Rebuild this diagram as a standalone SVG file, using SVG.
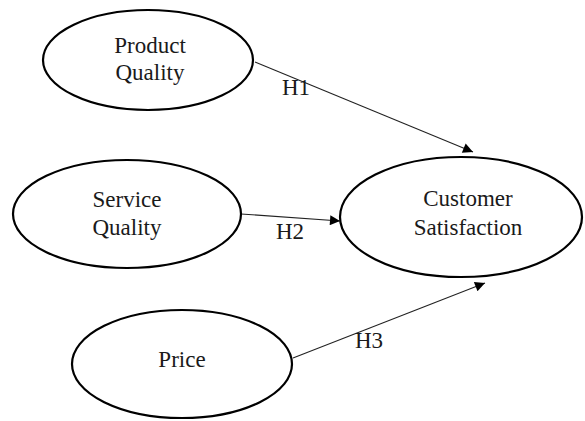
<svg xmlns="http://www.w3.org/2000/svg" width="585" height="421" viewBox="0 0 585 421">
  <style>
    .node { fill: #ffffff; stroke: #000000; stroke-width: 2.2; }
    .label { font-family: "Liberation Serif", "Times New Roman", serif; font-size: 23px; fill: #1a1a1a; text-anchor: middle; }
    .edge { stroke: #222222; stroke-width: 1.1; fill: none; marker-end: url(#arrow); }
    .edge-label { font-family: "Liberation Serif", "Times New Roman", serif; font-size: 23px; fill: #1a1a1a; }
  </style>
  <defs>
    <marker id="arrow" viewBox="0 0 10 10" refX="10" refY="5" markerWidth="14" markerHeight="10" markerUnits="userSpaceOnUse" orient="auto">
      <path d="M0,0 L10,5 L0,10 Z" fill="#000000"/>
    </marker>
  </defs>
  <rect width="585" height="421" fill="#ffffff"/>

  <g id="connectors">
    <line class="edge" x1="255" y1="62" x2="473" y2="152"/>
    <line class="edge" x1="241" y1="214" x2="340" y2="221"/>
    <line class="edge" x1="293" y1="358" x2="485" y2="283"/>
    <text class="edge-label" x="282" y="95">H1</text>
    <text class="edge-label" x="276" y="239">H2</text>
    <text class="edge-label" x="355" y="348">H3</text>
  </g>

  <g id="product-quality">
    <ellipse class="node" cx="148" cy="60" rx="105" ry="50"/>
    <text class="label" x="150" y="53">Product</text>
    <text class="label" x="150" y="80">Quality</text>
  </g>

  <g id="service-quality">
    <ellipse class="node" cx="127" cy="214" rx="114" ry="54"/>
    <text class="label" x="127" y="207">Service</text>
    <text class="label" x="127" y="235">Quality</text>
  </g>

  <g id="customer-satisfaction">
    <ellipse class="node" cx="461" cy="217" rx="121" ry="60"/>
    <text class="label" x="468" y="206">Customer</text>
    <text class="label" x="468" y="235">Satisfaction</text>
  </g>

  <g id="price">
    <ellipse class="node" cx="182" cy="364" rx="110" ry="54"/>
    <text class="label" x="182" y="367">Price</text>
  </g>
</svg>
